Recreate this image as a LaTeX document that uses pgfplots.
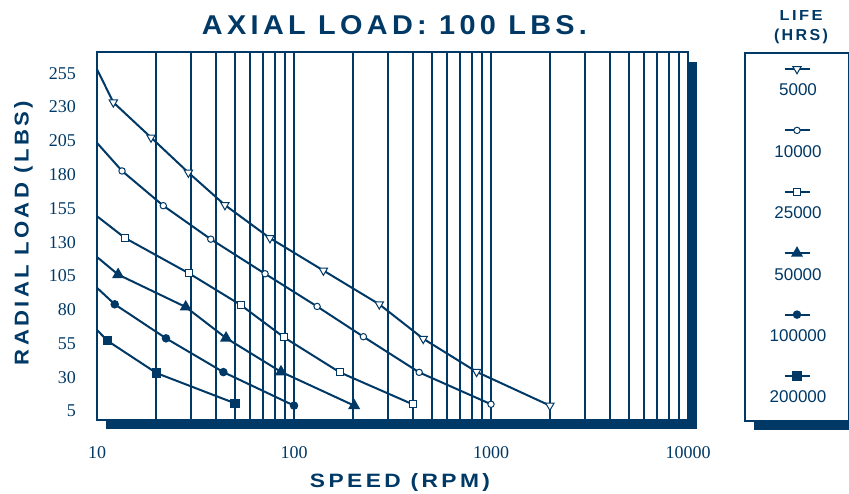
\documentclass[border=0pt]{standalone}
\usepackage{fontspec}
\setmainfont{Liberation Serif}
\newfontfamily\hv{Liberation Sans}
\newfontface\widebold[LetterSpace=15]{Liberation Sans Bold}
\usepackage{graphicx}
\usepackage{pgfplots}
\pgfplotsset{compat=1.18}
\definecolor{navy}{RGB}{0,57,102}

\begin{document}
\begin{tikzpicture}[x=1pt,y=1pt]
\useasboundingbox (0,0) rectangle (849,-493);
% drop shadows behind plot area and legend box
\fill[navy] (106,-62) rectangle (697,-429);
\fill[navy] (754,-62) rectangle (880,-430);
\draw[navy, line width=2pt, fill=white] (745,-53) rectangle (849,-421);

\node[anchor=base, text=navy] at (394.5,-34) {\resizebox{385pt}{19pt}{\widebold AXIAL LOAD: 100 LBS.}};
\node[anchor=base, text=navy] at (400,-487) {\resizebox{180pt}{14pt}{\widebold SPEED (RPM)}};
\node[anchor=base, rotate=90, text=navy] at (28.5,-233) {\resizebox{264pt}{14.5pt}{\widebold RADIAL LOAD (LBS)}};
\node[anchor=base, text=navy] at (801,-20) {\resizebox{43pt}{10pt}{\widebold LIFE}};
\node[anchor=base, text=navy] at (801,-40) {\resizebox{54pt}{11.5pt}{\widebold (HRS)}};

\begin{axis}[
  at={(97pt,-420pt)}, anchor=south west,
  scale only axis, width=591pt, height=368pt,
  xmode=log, xmin=10, xmax=10000,
  ymin=-1.66, ymax=270.77,
  axis background/.style={fill=white},
  axis line style={navy, line width=2pt},
  xtick={10,100,1000,10000},
  xticklabels={10,100,1000,10000},
  minor xtick={20,30,40,50,60,70,80,90,200,300,400,500,600,700,800,900,2000,3000,4000,5000,6000,7000,8000,9000},
  ytick={5,30,...,255},
  major tick length=0pt, minor tick length=0pt,
  xmajorgrids, xminorgrids,
  major grid style={navy, line width=2pt},
  minor grid style={navy, line width=2pt},
  /pgf/number format/assume math mode=true,
  tick label style={font=\fontsize{18}{20}\selectfont, text=navy, inner sep=0pt},
  yticklabel style={anchor=east, xshift=-21pt},
  xticklabel style={anchor=north, yshift=-26pt},
  every axis plot/.append style={navy, line width=2pt, mark phase=2},
  legend cell align=center,
  legend image code/.code={
    \path (0pt,0pt);
    \begin{scope}[overlay, shift={(30pt,21.7pt)}]
      \draw[#1, mark=none] (-12.5pt,0pt) -- (12.5pt,0pt);
      \draw[#1, mark phase=1, only marks] plot coordinates {(0pt,0pt)};
    \end{scope}
  },
  legend style={
    at={(axis description cs:1.18443,0.97826)}, anchor=north,
    draw=none, fill=none, inner sep=0pt, outer sep=0pt,
    row sep=0pt, column sep=0pt,
    /tikz/every even column/.style={column sep=0pt},
    /tikz/every odd column/.style={column sep=0pt},
    nodes={font=\hv\fontsize{17}{20}\selectfont, text=navy, inner sep=0pt,
      minimum height=61.4pt, text width=60pt, align=center},
  },
]
\addplot[mark=triangle*, mark size=4.8, mark options={rotate=180, fill=white, line width=1pt}]
  coordinates {(10,258) (12.1,233.5) (18.8,207.5) (29.1,181.5) (44.6,157.5) (75.5,133)
               (141,109) (271,84) (453,58.5) (845,34) (1990,9)};
\addplot[mark=*, mark size=3.2, mark options={fill=white, line width=1pt}]
  coordinates {(10,203.5) (13.4,182.7) (21.7,157) (37.8,132.2) (71.3,106.6) (131,82.4)
               (225,60) (432,33.6) (1000,10)};
\addplot[mark=square*, mark size=3.5, mark options={fill=white, line width=1pt}]
  coordinates {(10,149.2) (13.9,133) (29.4,106.8) (53.8,83.4) (89,59.5) (171,33.6) (400,10)};
\addplot[mark=triangle*, mark size=5, mark options={fill=navy}]
  coordinates {(10,119) (12.8,106) (28.2,82) (45.2,59) (85.9,34) (202,9)};
\addplot[mark=*, mark size=3.2, mark options={fill=navy}]
  coordinates {(10,96.2) (12.3,84) (22.4,58.8) (43.8,33.8) (100,9)};
\addplot[mark=square*, mark size=3.7, mark options={fill=navy}]
  coordinates {(10,65) (11.3,57) (20.1,33) (50.2,10.7)};
\legend{5000,10000,25000,50000,100000,200000}
\end{axis}
\end{tikzpicture}
\end{document}
